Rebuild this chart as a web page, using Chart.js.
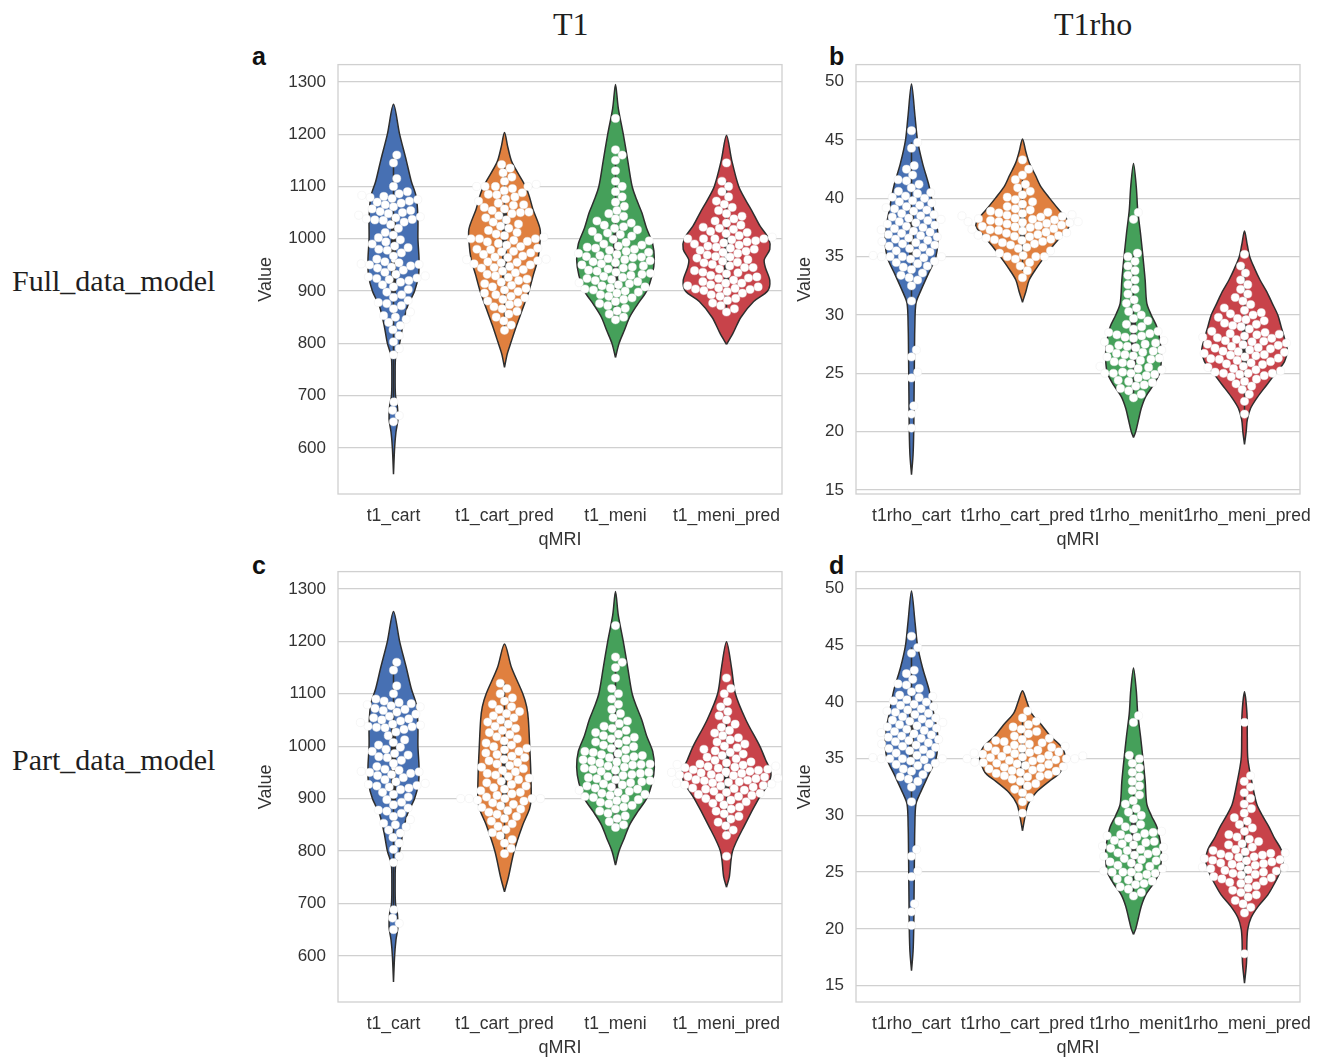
<!DOCTYPE html>
<html>
<head>
<meta charset="utf-8">
<title>qMRI violin plots</title>
<script src="https://cdn.jsdelivr.net/npm/chart.js@4.4.1/dist/chart.umd.min.js"></script>
<style>
    body { margin: 0; background: #fff; }
    #page { position: relative; width: 1320px; height: 1059px; overflow: hidden; background: #fff; }
    #page canvas { position: absolute; }
    .serif { position: absolute; font-family: 'Liberation Serif', 'Times New Roman', serif; color: #1e1e1e; white-space: nowrap; line-height: 1; }
    .letter { position: absolute; font-family: 'Liberation Sans', Arial, sans-serif; font-weight: bold; font-size: 25px; line-height: 1; color: #111; }
</style>
</head>
<body>
<div id="page">
    <div class="serif" style="left:553px; top:8px; font-size:32px;">T1</div>
    <div class="serif" style="left:1054px; top:8px; font-size:32px;">T1rho</div>
    <div class="serif" style="left:12px; top:266px; font-size:30px;">Full_data_model</div>
    <div class="serif" style="left:12px; top:745px; font-size:30px;">Part_data_model</div>
    <div class="letter" style="left:252px; top:44px;">a</div>
    <div class="letter" style="left:829px; top:44px;">b</div>
    <div class="letter" style="left:252px; top:553px;">c</div>
    <div class="letter" style="left:829px; top:553px;">d</div>
</div>
<script>
// Violin + swarm plots of T1 / T1rho values, drawn with Chart.js

// Categories and tick labels
const T1_CATS = ['t1_cart', 't1_cart_pred', 't1_meni', 't1_meni_pred'];
const RHO_CATS = ['t1rho_cart', 't1rho_cart_pred', 't1rho_meni', 't1rho_meni_pred'];
const T1_TICKS = [600, 700, 800, 900, 1000, 1100, 1200, 1300];
const RHO_TICKS = [15, 20, 25, 30, 35, 40, 45, 50];
const COLORS = ['#4770b3', '#e0803f', '#45a05a', '#c8434a'];

const t1Cart = [650, 662, 672, 688, 778, 790, 803, 815, 826, 834, 840, 846, 850, 853, 860, 866, 872, 876, 878, 882, 888, 893, 898, 903, 908, 912, 917, 920, 922, 924, 925, 927, 929, 932, 936, 940, 944, 946, 948, 950, 951, 952, 954, 956, 961, 967, 973, 978, 980, 983, 986, 990, 994, 998, 1002, 1007, 1012, 1020, 1027, 1032, 1035, 1036, 1037, 1038, 1040, 1042, 1045, 1048, 1050, 1052, 1054, 1057, 1061, 1065, 1068, 1070, 1072, 1075, 1077, 1079, 1081, 1083, 1086, 1090, 1100, 1115, 1145, 1160];
const t1Meni = [845, 850, 856, 862, 867, 872, 876, 880, 884, 887, 890, 893, 896, 898, 900, 902, 904, 906, 908, 910, 912, 914, 916, 918, 920, 922, 924, 926, 928, 930, 932, 934, 936, 938, 940, 942, 944, 946, 948, 950, 952, 954, 956, 958, 960, 962, 964, 965, 966, 968, 970, 972, 974, 976, 978, 980, 982, 984, 986, 988, 990, 993, 996, 999, 1002, 1005, 1008, 1011, 1014, 1017, 1020, 1023, 1026, 1030, 1034, 1038, 1043, 1048, 1054, 1062, 1070, 1080, 1090, 1100, 1110, 1130, 1150, 1160, 1170, 1230];
const t1CartPredFull = [825, 835, 843, 850, 856, 861, 866, 870, 874, 878, 881, 884, 887, 890, 893, 896, 899, 902, 905, 908, 911, 914, 917, 920, 923, 926, 929, 932, 935, 938, 941, 944, 945, 947, 950, 952, 954, 955, 956, 958, 960, 961, 964, 965, 967, 970, 973, 975, 976, 979, 980, 982, 985, 988, 991, 994, 995, 997, 1000, 1000, 1000, 1003, 1006, 1009, 1012, 1016, 1020, 1024, 1028, 1032, 1036, 1040, 1044, 1048, 1050, 1051, 1054, 1057, 1060, 1064, 1065, 1068, 1072, 1076, 1080, 1084, 1085, 1088, 1092, 1096, 1100, 1100, 1100, 1100, 1104, 1110, 1118, 1126, 1135, 1142];
const t1MeniPredFull = [860, 866, 872, 877, 882, 886, 890, 893, 896, 899, 901, 903, 904, 905, 906, 908, 910, 912, 915, 915, 918, 921, 924, 925, 927, 930, 933, 935, 936, 939, 942, 945, 945, 948, 951, 954, 955, 957, 960, 963, 965, 966, 969, 972, 974, 976, 978, 980, 982, 984, 986, 988, 990, 992, 994, 996, 998, 1000, 1000, 1000, 1000, 1003, 1006, 1010, 1012, 1014, 1018, 1020, 1022, 1026, 1030, 1034, 1038, 1043, 1048, 1054, 1060, 1066, 1072, 1080, 1090, 1100, 1110, 1145];
const t1CartPredPart = [795, 805, 815, 822, 829, 835, 841, 847, 852, 857, 862, 866, 870, 874, 877, 880, 883, 886, 889, 892, 895, 897, 900, 900, 900, 900, 900, 903, 906, 909, 912, 915, 918, 921, 924, 927, 930, 933, 936, 939, 942, 945, 948, 951, 954, 957, 960, 963, 966, 969, 972, 975, 978, 981, 984, 987, 990, 993, 996, 999, 1002, 1006, 1010, 1014, 1018, 1022, 1026, 1030, 1034, 1038, 1042, 1046, 1050, 1054, 1058, 1062, 1066, 1070, 1075, 1080, 1086, 1092, 1100, 1110, 1120];
const t1MeniPredPart = [790, 830, 840, 848, 855, 861, 866, 871, 876, 880, 884, 888, 891, 894, 897, 900, 902, 904, 906, 908, 910, 912, 914, 916, 918, 919, 920, 922, 924, 925, 926, 928, 929, 930, 931, 932, 934, 935, 936, 938, 939, 940, 941, 942, 944, 945, 946, 948, 949, 950, 951, 952, 954, 955, 956, 958, 959, 960, 961, 962, 964, 965, 966, 968, 970, 973, 976, 979, 982, 985, 988, 991, 994, 997, 1000, 1004, 1008, 1012, 1016, 1020, 1025, 1030, 1036, 1042, 1050, 1058, 1066, 1075, 1085, 1100, 1110, 1130];

const t1rhoCart = [20.3, 21.5, 22.2, 24.6, 25.1, 26.4, 27.0, 31.2, 32.5, 33.0, 33.2, 33.4, 33.6, 33.9, 34.1, 34.2, 34.4, 34.5, 34.6, 34.8, 34.9, 35.0, 35.0, 35.0, 35.0, 35.1, 35.3, 35.4, 35.5, 35.7, 35.8, 35.9, 36.0, 36.1, 36.2, 36.3, 36.4, 36.5, 36.6, 36.7, 36.8, 36.9, 37.0, 37.1, 37.2, 37.3, 37.4, 37.5, 37.6, 37.7, 37.8, 37.9, 38.0, 38.1, 38.2, 38.3, 38.4, 38.5, 38.6, 38.7, 38.9, 39.0, 39.1, 39.2, 39.3, 39.4, 39.6, 39.7, 39.8, 40.0, 40.1, 40.2, 40.4, 40.5, 40.6, 40.9, 41.2, 41.5, 41.6, 42.0, 42.5, 42.8, 44.3, 44.8, 45.8];
const t1rhoMeni = [22.9, 23.2, 23.5, 23.7, 23.9, 24.0, 24.2, 24.3, 24.4, 24.6, 24.8, 24.9, 25.0, 25.0, 25.0, 25.1, 25.3, 25.4, 25.5, 25.6, 25.8, 25.9, 26.0, 26.1, 26.2, 26.3, 26.4, 26.5, 26.6, 26.7, 26.8, 26.9, 27.0, 27.1, 27.2, 27.3, 27.4, 27.5, 27.6, 27.7, 27.8, 28.0, 28.1, 28.2, 28.3, 28.4, 28.5, 28.6, 28.8, 29.0, 29.2, 29.5, 29.7, 30.0, 30.3, 30.6, 31.0, 31.3, 31.8, 32.2, 32.6, 33.0, 33.4, 33.8, 34.2, 34.6, 35.0, 35.3, 38.2, 38.8];
const t1rhoCartPredFull = [33.2, 33.8, 34.2, 34.5, 34.8, 35.0, 35.0, 35.0, 35.1, 35.3, 35.5, 35.7, 35.8, 36.0, 36.1, 36.2, 36.3, 36.4, 36.45, 36.5, 36.6, 36.7, 36.75, 36.8, 36.85, 36.9, 37.0, 37.05, 37.1, 37.2, 37.25, 37.3, 37.35, 37.4, 37.5, 37.55, 37.6, 37.65, 37.7, 37.8, 37.85, 37.9, 37.95, 38.0, 38.0, 38.0, 38.1, 38.15, 38.2, 38.25, 38.3, 38.4, 38.45, 38.5, 38.55, 38.6, 38.7, 38.75, 38.8, 38.9, 39.0, 39.1, 39.3, 39.5, 39.7, 39.9, 40.1, 40.3, 40.6, 40.9, 41.2, 41.6, 42.0, 42.5, 43.3];
const t1rhoMeniPredFull = [21.5, 22.6, 23.2, 23.6, 23.9, 24.1, 24.3, 24.5, 24.7, 24.8, 24.9, 25.0, 25.0, 25.0, 25.1, 25.2, 25.3, 25.4, 25.5, 25.6, 25.75, 25.8, 25.9, 26.0, 26.1, 26.2, 26.25, 26.3, 26.4, 26.5, 26.55, 26.6, 26.7, 26.8, 26.85, 26.9, 27.0, 27.1, 27.15, 27.2, 27.3, 27.4, 27.45, 27.5, 27.6, 27.7, 27.75, 27.8, 27.9, 28.0, 28.05, 28.1, 28.2, 28.3, 28.35, 28.4, 28.5, 28.6, 28.8, 29.0, 29.1, 29.2, 29.3, 29.5, 29.6, 29.7, 29.8, 30.0, 30.1, 30.2, 30.4, 30.6, 30.9, 31.2, 31.5, 31.8, 32.2, 32.6, 33.0, 33.6, 34.2, 35.2];
const t1rhoCartPredPart = [30.2, 31.2, 31.6, 32.0, 32.3, 32.6, 32.8, 33.0, 33.2, 33.4, 33.45, 33.5, 33.6, 33.7, 33.8, 33.9, 33.95, 34.0, 34.1, 34.2, 34.25, 34.3, 34.4, 34.5, 34.55, 34.6, 34.65, 34.7, 34.8, 34.85, 34.9, 35.0, 35.0, 35.0, 35.0, 35.1, 35.15, 35.2, 35.25, 35.3, 35.4, 35.45, 35.5, 35.55, 35.6, 35.7, 35.75, 35.8, 35.9, 36.0, 36.05, 36.1, 36.2, 36.3, 36.4, 36.5, 36.6, 36.7, 36.8, 37.0, 37.2, 37.4, 37.6, 37.8, 38.0, 38.3, 38.6, 39.2];
const t1rhoMeniPredPart = [17.8, 21.4, 21.9, 22.2, 22.5, 22.8, 23.0, 23.2, 23.4, 23.6, 23.8, 24.0, 24.1, 24.2, 24.35, 24.4, 24.5, 24.6, 24.75, 24.8, 24.9, 25.0, 25.1, 25.15, 25.2, 25.3, 25.4, 25.45, 25.5, 25.6, 25.7, 25.75, 25.8, 25.9, 26.0, 26.05, 26.1, 26.2, 26.3, 26.35, 26.4, 26.5, 26.6, 26.65, 26.7, 26.8, 26.9, 27.0, 27.2, 27.4, 27.5, 27.7, 27.9, 28.1, 28.3, 28.6, 28.9, 29.2, 29.5, 29.8, 30.2, 30.6, 31.0, 31.5, 32.0, 32.5, 33.0, 33.5, 38.2];

// Violin outlines: [value, half width in category units]
const t1CartShape = [[550, 0], [600, 0.01], [630, 0.022], [655, 0.04], [680, 0.035], [700, 0.018], [740, 0.015], [775, 0.02], [800, 0.055], [835, 0.085], [870, 0.125], [900, 0.19], [930, 0.225], [960, 0.23], [1000, 0.22], [1040, 0.22], [1080, 0.205], [1110, 0.16], [1150, 0.115], [1200, 0.055], [1257, 0]];
const t1MeniShape = [[773, 0], [800, 0.032], [825, 0.08], [850, 0.127], [875, 0.2], [900, 0.28], [930, 0.33], [960, 0.35], [990, 0.335], [1020, 0.28], [1050, 0.237], [1075, 0.19], [1100, 0.15], [1150, 0.11], [1200, 0.07], [1250, 0.025], [1295, 0]];
const t1CartPredFullShape = [[754, 0], [780, 0.025], [803, 0.06], [835, 0.11], [867, 0.165], [900, 0.22], [931, 0.26], [960, 0.3], [994, 0.32], [1019, 0.32], [1057, 0.255], [1080, 0.225], [1102, 0.185], [1146, 0.068], [1175, 0.03], [1203, 0]];
const t1MeniPredFullShape = [[798, 0], [820, 0.06], [850, 0.13], [880, 0.245], [900, 0.37], [920, 0.39], [945, 0.35], [960, 0.34], [980, 0.39], [1000, 0.38], [1025, 0.3], [1050, 0.237], [1075, 0.17], [1100, 0.11], [1150, 0.047], [1198, 0]];
const t1CartPredPartShape = [[722, 0], [750, 0.035], [800, 0.087], [850, 0.165], [880, 0.225], [900, 0.24], [950, 0.237], [1000, 0.227], [1050, 0.215], [1075, 0.2], [1100, 0.165], [1150, 0.063], [1195, 0]];
const t1MeniPredPartShape = [[731, 0], [750, 0.025], [800, 0.055], [850, 0.165], [900, 0.29], [930, 0.38], [950, 0.4], [975, 0.35], [1000, 0.3], [1050, 0.175], [1100, 0.08], [1150, 0.045], [1199, 0]];

const t1rhoCartShape = [[16.3, 0], [18, 0.014], [20, 0.02], [22, 0.022], [25, 0.025], [27, 0.027], [29, 0.03], [31, 0.04], [32, 0.08], [33.5, 0.15], [35, 0.22], [37, 0.237], [39, 0.2], [41, 0.16], [43, 0.1], [45, 0.054], [47, 0.032], [49.8, 0]];
const t1rhoMeniShape = [[19.5, 0], [20, 0.02], [21, 0.045], [22, 0.07], [23, 0.11], [24, 0.18], [25, 0.235], [26, 0.25], [27, 0.25], [28, 0.235], [29, 0.21], [30, 0.16], [31, 0.12], [33, 0.105], [35, 0.085], [37, 0.063], [39, 0.038], [41, 0.025], [43, 0]];
const t1rhoCartPredFullShape = [[31.1, 0], [32, 0.03], [33, 0.06], [34, 0.125], [35, 0.2], [36, 0.28], [37, 0.37], [37.6, 0.42], [38.2, 0.4], [39, 0.33], [40, 0.245], [41, 0.165], [42, 0.115], [43, 0.063], [44, 0.03], [45.1, 0]];
const t1rhoMeniPredFullShape = [[18.9, 0], [20, 0.015], [21, 0.025], [22, 0.055], [23, 0.12], [24, 0.2], [25, 0.28], [26, 0.36], [27, 0.385], [28, 0.36], [29, 0.33], [30, 0.3], [31, 0.25], [32, 0.2], [33, 0.14], [34, 0.09], [35, 0.047], [36, 0.025], [37.2, 0]];
const t1rhoCartPredPartShape = [[28.65, 0], [30, 0.025], [31, 0.05], [32, 0.12], [33, 0.24], [33.6, 0.32], [34, 0.35], [35, 0.385], [36, 0.355], [37, 0.25], [38, 0.17], [39, 0.08], [40, 0.04], [41, 0]];
const t1rhoMeniPredPartShape = [[15.2, 0], [17, 0.018], [19, 0.022], [20, 0.03], [21, 0.06], [22, 0.125], [23, 0.21], [24, 0.27], [25, 0.32], [26, 0.35], [27, 0.33], [28, 0.27], [29, 0.22], [30, 0.16], [31, 0.11], [33, 0.065], [35, 0.03], [37, 0.025], [39, 0.022], [40.9, 0]];

// Style constants
const GRID_COLOR = '#d0d0d0';
const EDGE_COLOR = '#2e2e2e';
const TEXT_COLOR = '#333333';
const SANS = "'Liberation Sans', Arial, sans-serif";
const DOT_RADIUS = 4.1;

// Panel layout (pixel frame of each plot area)
const PANELS = [
    { frame: [338, 62, 782, 494], yWidth: 83, cats: T1_CATS, ticks: T1_TICKS, range: [512, 1333],
      values: [t1Cart, t1CartPredFull, t1Meni, t1MeniPredFull],
      shapes: [t1CartShape, t1CartPredFullShape, t1MeniShape, t1MeniPredFullShape] },
    { frame: [856, 62, 1300, 494], yWidth: 62, cats: RHO_CATS, ticks: RHO_TICKS, range: [14.65, 51.47],
      values: [t1rhoCart, t1rhoCartPredFull, t1rhoMeni, t1rhoMeniPredFull],
      shapes: [t1rhoCartShape, t1rhoCartPredFullShape, t1rhoMeniShape, t1rhoMeniPredFullShape] },
    { frame: [338, 569, 782, 1002], yWidth: 83, cats: T1_CATS, ticks: T1_TICKS, range: [512, 1333],
      values: [t1Cart, t1CartPredPart, t1Meni, t1MeniPredPart],
      shapes: [t1CartShape, t1CartPredPartShape, t1MeniShape, t1MeniPredPartShape] },
    { frame: [856, 569, 1300, 1002], yWidth: 62, cats: RHO_CATS, ticks: RHO_TICKS, range: [13.55, 51.5],
      values: [t1rhoCart, t1rhoCartPredPart, t1rhoMeni, t1rhoMeniPredPart],
      shapes: [t1rhoCartShape, t1rhoCartPredPartShape, t1rhoMeniShape, t1rhoMeniPredPartShape] }
];

// Light grey box round the plot area (seaborn whitegrid spines)
const framePlugin = {
    id: 'frame',
    beforeDatasetsDraw(chart) {
        const { ctx, chartArea: a } = chart;
        ctx.save();
        ctx.strokeStyle = GRID_COLOR;
        ctx.lineWidth = 1.3;
        ctx.strokeRect(a.left, a.top, a.right - a.left, a.bottom - a.top);
        ctx.restore();
    }
};

// Closed outline of a violin centred on category i
function violinOutline(shape, i) {
    const right = shape.map(([v, w]) => ({ x: i + w, y: v }));
    const left = shape.slice().reverse().map(([v, w]) => ({ x: i - w, y: v }));
    return right.concat(left.slice(1));
}

function quantile(sorted, q) {
    const pos = (sorted.length - 1) * q;
    const lo = Math.floor(pos);
    const hi = Math.ceil(pos);
    return sorted[lo] + (sorted[hi] - sorted[lo]) * (pos - lo);
}

// Inner box statistics like seaborn's inner="box"
function boxStats(values) {
    const s = values.slice().sort((a, b) => a - b);
    const q1 = quantile(s, 0.25);
    const q3 = quantile(s, 0.75);
    const lim = 1.5 * (q3 - q1);
    const lo = s.find(v => v >= q1 - lim);
    const hi = s.slice().reverse().find(v => v <= q3 + lim);
    return { q1, q3, lo, hi, med: quantile(s, 0.5) };
}

// Beeswarm layout in pixel space: each point goes as close to the centre as it can
function swarm(values, center, toPixelY, pxPerCat, d) {
    const pts = values.map(v => ({ v, py: toPixelY(v), px: 0 })).sort((a, b) => b.py - a.py);
    const placed = [];
    for (const p of pts) {
        const near = placed.filter(q => Math.abs(q.py - p.py) < d);
        const cands = [0];
        near.forEach(q => {
            const dx = Math.sqrt(d * d - (q.py - p.py) ** 2);
            cands.push(q.px + dx, q.px - dx);
        });
        cands.sort((a, b) => Math.abs(a) - Math.abs(b));
        for (const c of cands) {
            if (near.every(q => (q.px - c) ** 2 + (q.py - p.py) ** 2 >= d * d - 0.01)) {
                p.px = c;
                break;
            }
        }
        placed.push(p);
    }
    return placed.map(p => ({ x: center + p.px / pxPerCat, y: p.v }));
}

function createViolinChart(panel) {
    const [x0, y0, x1, y1] = panel.frame;
    const pad = { top: 2, right: 16, bottom: 0, left: 0 };
    const xAxisHeight = 57;

    const canvas = document.createElement('canvas');
    canvas.width = panel.yWidth + (x1 - x0) + pad.right;
    canvas.height = pad.top + (y1 - y0) + xAxisHeight;
    canvas.style.left = (x0 - panel.yWidth) + 'px';
    canvas.style.top = (y0 - pad.top) + 'px';
    document.getElementById('page').appendChild(canvas);

    const datasets = [];
    const pointSets = [];
    panel.values.forEach((vals, i) => {
        const st = boxStats(vals);
        const pts = { data: [], showLine: false, pointRadius: DOT_RADIUS, pointBackgroundColor: '#ffffff',
            pointBorderColor: 'rgba(235,235,235,0.9)', pointBorderWidth: 0.5, order: 0 };
        pointSets.push(pts);
        datasets.push(pts);
        datasets.push({ data: [{ x: i, y: st.med }], showLine: false, pointRadius: 2.4,
            pointBackgroundColor: '#ffffff', pointBorderWidth: 0, order: 1 });
        datasets.push({ data: [{ x: i, y: st.q1 }, { x: i, y: st.q3 }], showLine: true, pointRadius: 0,
            borderColor: EDGE_COLOR, borderWidth: 5, order: 2 });
        datasets.push({ data: [{ x: i, y: st.lo }, { x: i, y: st.hi }], showLine: true, pointRadius: 0,
            borderColor: EDGE_COLOR, borderWidth: 1.5, order: 2 });
        datasets.push({ data: violinOutline(panel.shapes[i], i), showLine: true, pointRadius: 0,
            borderColor: EDGE_COLOR, borderWidth: 1.5, backgroundColor: COLORS[i],
            fill: 'shape', tension: 0.3, order: 3 });
    });

    const chart = new Chart(canvas.getContext('2d'), {
        type: 'scatter',
        data: { datasets },
        options: {
            responsive: false,
            animation: false,
            events: [],
            layout: { padding: pad },
            plugins: { legend: { display: false }, tooltip: { enabled: false } },
            scales: {
                x: {
                    type: 'linear',
                    min: -0.5,
                    max: 3.5,
                    grid: { display: false, drawTicks: false },
                    border: { display: false },
                    afterBuildTicks: (scale) => { scale.ticks = [0, 1, 2, 3].map(v => ({ value: v })); },
                    afterFit: (scale) => {
                        scale.height = xAxisHeight;
                        scale.paddingLeft = 0;
                        scale.paddingRight = 0;
                    },
                    ticks: {
                        autoSkip: false, maxRotation: 0, minRotation: 0, padding: 12,
                        color: TEXT_COLOR, font: { family: SANS, size: 17.5 },
                        callback: (v) => panel.cats[v]
                    },
                    title: { display: true, text: 'qMRI', color: TEXT_COLOR, padding: 0,
                        font: { family: SANS, size: 18 } }
                },
                y: {
                    type: 'linear',
                    min: panel.range[0],
                    max: panel.range[1],
                    grid: { color: GRID_COLOR, lineWidth: 1.3, drawTicks: false },
                    border: { display: false },
                    afterBuildTicks: (scale) => { scale.ticks = panel.ticks.map(v => ({ value: v })); },
                    afterFit: (scale) => {
                        scale.width = panel.yWidth;
                        scale.paddingTop = 0;
                        scale.paddingBottom = 0;
                    },
                    ticks: {
                        padding: 12, color: TEXT_COLOR, font: { family: SANS, size: 17 },
                        callback: (v) => String(v)
                    },
                    title: { display: true, text: 'Value', color: TEXT_COLOR, padding: 0,
                        font: { family: SANS, size: 18 } }
                }
            }
        },
        plugins: [framePlugin]
    });

    // Second pass: lay the swarm out with the real pixel scales
    const ys = chart.scales.y;
    const xs = chart.scales.x;
    const pxPerCat = xs.getPixelForValue(1) - xs.getPixelForValue(0);
    panel.values.forEach((vals, i) => {
        pointSets[i].data = swarm(vals, i, v => ys.getPixelForValue(v), pxPerCat, DOT_RADIUS * 2 + 0.3);
    });
    chart.update('none');
    return chart;
}

PANELS.forEach(createViolinChart);
</script>
</body>
</html>
